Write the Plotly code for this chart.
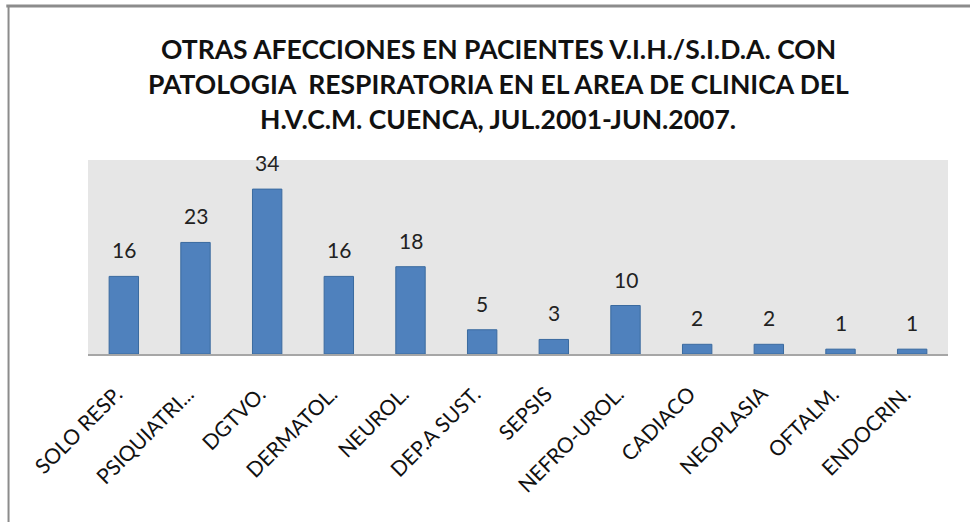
import plotly.graph_objects as go

categories = ["SOLO RESP.", "PSIQUIATRI...", "DGTVO.", "DERMATOL.", "NEUROL.", "DEP.A SUST.",
              "SEPSIS", "NEFRO-UROL.", "CADIACO", "NEOPLASIA", "OFTALM.", "ENDOCRIN."]
values = [16, 23, 34, 16, 18, 5, 3, 10, 2, 2, 1, 1]

title_lines = ["OTRAS AFECCIONES EN PACIENTES V.I.H./S.I.D.A. CON",
               "PATOLOGIA  RESPIRATORIA EN EL AREA DE CLINICA DEL",
               "H.V.C.M. CUENCA, JUL.2001-JUN.2007."]

fig = go.Figure()
fig.add_trace(go.Bar(
    x=categories, y=values,
    marker=dict(color="#4F81BD", line=dict(color="#3A6A9F", width=1)),
    cliponaxis=False,
))

for c, v in zip(categories, values):
    fig.add_annotation(x=c, y=v, text=str(v), showarrow=False, yanchor="bottom",
                       yshift=12, font=dict(family="Lato", size=21, color="#222222"))

title_y = [1.572, 1.392, 1.211]
for line, yy in zip(title_lines, title_y):
    fig.add_annotation(xref="paper", yref="paper", x=0.477, y=yy, text=line, showarrow=False,
                       xanchor="center", yanchor="middle",
                       font=dict(family="Lato", size=26.5, color="#111111", weight="bold"))

fig.update_layout(
    width=970, height=522,
    margin=dict(l=88, r=22, t=160, b=168),
    paper_bgcolor="white", plot_bgcolor="#E6E6E6",
    bargap=0.59,
    showlegend=False,
    font=dict(family="Lato", color="#111111"),
)
fig.update_xaxes(tickangle=-45, tickfont=dict(family="Lato", size=21, color="#111111"),
                 tickmode="array", tickvals=categories,
                 ticktext=[c + "\u00a0\u00a0" for c in categories],
                 showline=True, linecolor="#A6A6A6", linewidth=2, ticks="", showgrid=False,
                 automargin=False, ticklabelstandoff=10)
fig.update_yaxes(range=[0, 40], visible=False, showgrid=False, automargin=False)

fig.add_shape(type="line", xref="paper", yref="paper", x0=-0.095, x1=1.03, y0=1.794, y1=1.794,
              line=dict(color="#8C8C8C", width=3))
fig.add_shape(type="line", xref="paper", yref="paper", x0=-0.0924, x1=-0.0924, y0=1.794, y1=-0.88,
              line=dict(color="#8C8C8C", width=2))

fig.write_html("out.html", config={"displayModeBar": False},
               post_script="document.body.style.margin='0';")
